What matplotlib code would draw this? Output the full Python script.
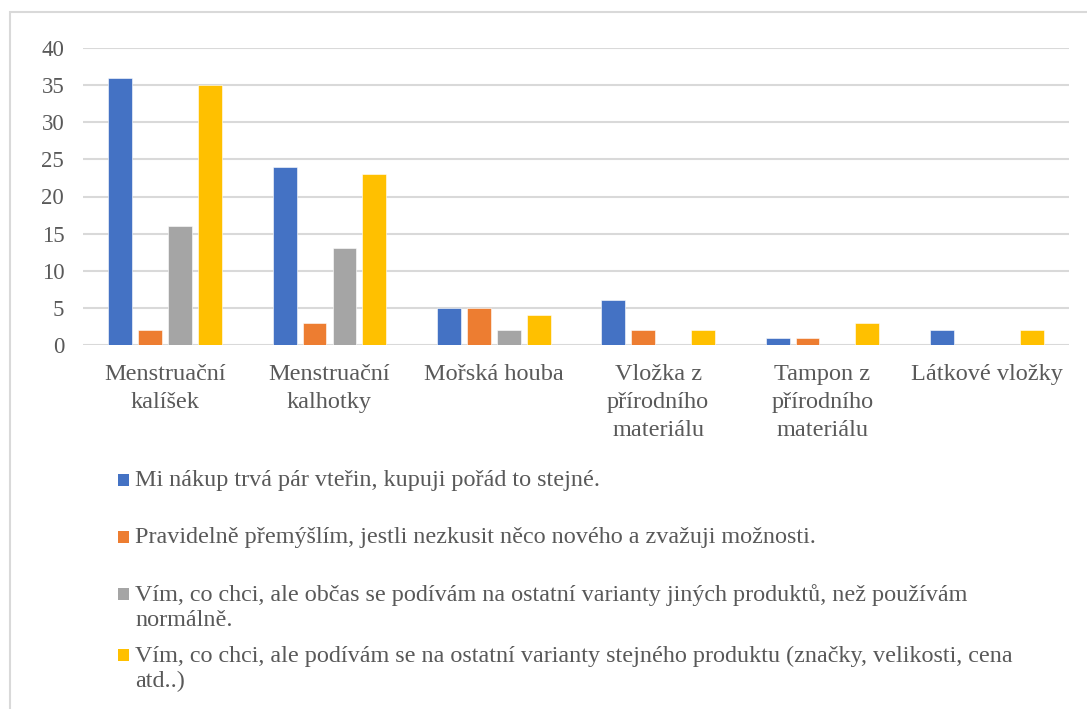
import matplotlib.pyplot as plt
import numpy as np
from matplotlib.patches import Rectangle

categories = ['Menstruační\nkalíšek', 'Menstruační\nkalhotky', 'Mořská houba',
              'Vložka z\npřírodního\nmateriálu', 'Tampon z\npřírodního\nmateriálu', 'Látkové vložky']
series_labels = [
    'Mi nákup trvá pár vteřin, kupuji pořád to stejné.',
    'Pravidelně přemýšlím, jestli nezkusit něco nového a zvažuji možnosti.',
    'Vím, co chci, ale občas se podívám na ostatní varianty jiných produktů, než používám\nnormálně.',
    'Vím, co chci, ale podívám se na ostatní varianty stejného produktu (značky, velikosti, cena\natd..)',
]
fast_buy = [36, 24, 5, 6, 1, 2]
think_new = [2, 3, 5, 2, 1, 0]
other_products = [16, 13, 2, 0, 0, 0]
same_product = [35, 23, 4, 2, 3, 2]
yticks = [0, 5, 10, 15, 20, 25, 30, 35, 40]

colors = ['#4472C4', '#ED7D31', '#A5A5A5', '#FFC000']
text_color = '#595959'
grid_color = '#D9D9D9'

plt.rcParams['font.family'] = 'serif'
plt.rcParams['font.serif'] = ['Liberation Serif', 'Times New Roman', 'DejaVu Serif']

W, H = 1087, 709
fig = plt.figure(figsize=(W / 100, H / 100), dpi=100)
ax = fig.add_axes([83/W, 1 - 345/H, (1069 - 83)/W, (345 - 48)/H])

x = np.arange(len(categories))
step = 0.182
width = 0.145
all_series = [fast_buy, think_new, other_products, same_product]
for i, vals in enumerate(all_series):
    ax.bar(x + (i - 1.5) * step, vals, width, color=colors[i], zorder=3,
           edgecolor='white', linewidth=0.4)

ax.set_xlim(-0.5, len(categories) - 0.5)
ax.set_ylim(0, 40)
ax.set_yticks(yticks)
ax.set_yticklabels([str(t) for t in yticks], fontsize=16.5, color=text_color)
ax.set_xticks(x)
ax.set_xticklabels(categories, fontsize=17.5, color=text_color, va='top', linespacing=1.45)
ax.tick_params(axis='both', length=0)
ax.tick_params(axis='y', pad=13.5)
ax.tick_params(axis='x', pad=13.5)
ax.yaxis.grid(True, color=grid_color, linewidth=1.5, zorder=0)
for s in ax.spines.values():
    s.set_visible(False)

# chart border (only top and left visible in the crop)
fig.patches.append(Rectangle((10/W, -0.1), 1.2, 1 - 12/H + 0.1, transform=fig.transFigure,
                             fill=False, edgecolor=grid_color, linewidth=1.5))

# legend entries, first-line baselines in pixels
fs = 17.4
legend_base = [487, 544, 601, 662]
for i, (lab, yy) in enumerate(zip(series_labels, legend_base)):
    fig.patches.append(Rectangle((118/W, 1 - (yy - 1)/H), 11/W, 12/H,
                                 transform=fig.transFigure, facecolor=colors[i], edgecolor='none'))
    top = yy - 0.683 * fs * 100 / 72
    fig.text(135/W, 1 - top/H, lab, fontsize=fs, color=text_color,
             va='top', ha='left', linespacing=1.25)

fig.savefig('out.png', dpi=100)
